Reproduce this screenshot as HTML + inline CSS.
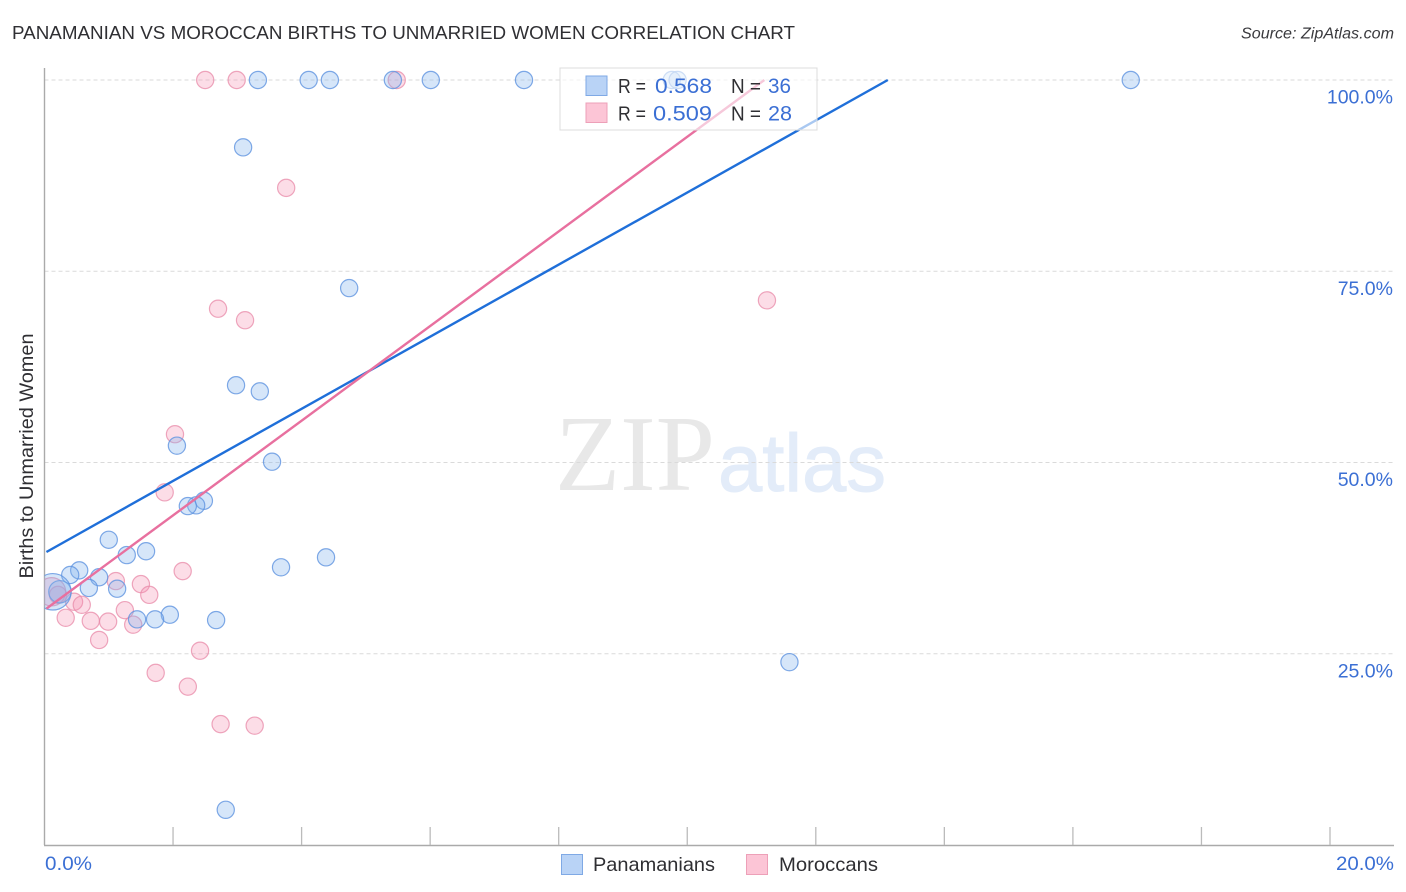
<!DOCTYPE html>
<html>
<head>
<meta charset="utf-8">
<title>Panamanian vs Moroccan Births to Unmarried Women Correlation Chart</title>
<style>
html,body{margin:0;padding:0;background:#fff;width:1406px;height:892px;overflow:hidden}
svg{display:block;font-family:"Liberation Sans",sans-serif}
</style>
</head>
<body>
<svg id="chart" xmlns="http://www.w3.org/2000/svg" width="1406" height="892" viewBox="0 0 1406 892">
  <defs>
    <clipPath id="plot-clip"><rect x="44.5" y="60" width="1350" height="785"/></clipPath>
  </defs>
  <rect x="0" y="0" width="1406" height="892" fill="#ffffff"/>
  <text x="12" y="39" font-size="18.5" fill="#2f2f33" textLength="783" lengthAdjust="spacingAndGlyphs">PANAMANIAN VS MOROCCAN BIRTHS TO UNMARRIED WOMEN CORRELATION CHART</text>
  <text x="1394" y="38.5" font-size="15.5" font-style="italic" fill="#3a3a3e" text-anchor="end" textLength="153" lengthAdjust="spacingAndGlyphs">Source: ZipAtlas.com</text>
  <g>
    <text x="555" y="490" font-family="'Liberation Serif',serif" font-size="108" fill="#e8e8e8" textLength="160" lengthAdjust="spacingAndGlyphs">ZIP</text>
    <text x="718" y="491" font-size="82" fill="#e3ecf9" stroke="#e3ecf9" stroke-width="1" textLength="168" lengthAdjust="spacingAndGlyphs">atlas</text>
  </g>
  <g id="grid"></g>
  <g id="axes"></g>
  <g id="marks" clip-path="url(#plot-clip)"></g>
  <g id="trends"></g>
  <text transform="translate(33,456) rotate(-90)" font-size="19.5" fill="#2f2f33" text-anchor="middle" textLength="245" lengthAdjust="spacingAndGlyphs">Births to Unmarried Women</text>
  <g>
    <rect x="560" y="68" width="257" height="62" fill="#ffffff" fill-opacity="0.62" stroke="#dcdcdc" stroke-width="1"/>
    <rect x="586" y="76" width="21" height="19.5" fill="#b9d3f6" stroke="#7fa9e5"/>
    <rect x="586" y="103" width="21" height="19.5" fill="#fcc5d6" stroke="#eda0b8"/>
    <text x="618" y="93" font-size="20" fill="#2f2f33" textLength="28" lengthAdjust="spacingAndGlyphs">R =</text>
    <text x="655" y="93" font-size="21" fill="#3b6fd4" textLength="57" lengthAdjust="spacingAndGlyphs">0.568</text>
    <text x="731" y="93" font-size="20" fill="#2f2f33" textLength="30" lengthAdjust="spacingAndGlyphs">N =</text>
    <text x="768" y="93" font-size="21" fill="#3b6fd4" textLength="23" lengthAdjust="spacingAndGlyphs">36</text>
    <text x="618" y="120.5" font-size="20" fill="#2f2f33" textLength="28" lengthAdjust="spacingAndGlyphs">R =</text>
    <text x="653" y="120.5" font-size="21" fill="#3b6fd4" textLength="59" lengthAdjust="spacingAndGlyphs">0.509</text>
    <text x="731" y="120.5" font-size="20" fill="#2f2f33" textLength="30" lengthAdjust="spacingAndGlyphs">N =</text>
    <text x="768" y="120.5" font-size="21" fill="#3b6fd4" textLength="24" lengthAdjust="spacingAndGlyphs">28</text>
  </g>
  <g>
    <rect x="561.5" y="854.5" width="21" height="20" fill="#b9d3f6" stroke="#7fa9e5"/>
    <text x="593" y="871" font-size="19.5" fill="#2f2f33" textLength="122" lengthAdjust="spacingAndGlyphs">Panamanians</text>
    <rect x="746.5" y="854.5" width="21" height="20" fill="#fcc5d6" stroke="#eda0b8"/>
    <text x="779" y="871" font-size="19.5" fill="#2f2f33" textLength="99" lengthAdjust="spacingAndGlyphs">Moroccans</text>
  </g>
</svg>
<script>
const yTicks = [25, 50, 75, 100];
const yTickLabels = ["25.0%", "50.0%", "75.0%", "100.0%"];
const xTicks = [2, 4, 6, 8, 10, 12, 14, 16, 18, 20];
const xEndTicks = [0, 20];
const xEndLabels = ["0.0%", "20.0%"];

const panamanianX = [3.32, 4.11, 4.44, 5.42, 6.01, 7.46, 9.76, 9.85, 16.9, 3.09, 4.74, 2.98, 3.35, 2.06, 3.54, 2.48, 2.36, 2.23, 1.0, 1.58, 1.28, 4.38, 3.68, 0.54, 0.40, 0.85, 0.69, 1.13, 0.24, 0.13, 1.95, 1.72, 1.44, 2.67, 11.59, 2.82];
const panamanianY = [100, 100, 100, 100, 100, 100, 100, 100, 100, 91.2, 72.8, 60.1, 59.3, 52.2, 50.1, 45.0, 44.4, 44.3, 39.9, 38.4, 37.9, 37.6, 36.3, 35.9, 35.3, 35.0, 33.6, 33.5, 33.1, 33.1, 30.1, 29.5, 29.5, 29.4, 23.9, 4.6];
const panamanianWeight = [1, 1, 1, 1, 1, 1, 1, 1, 1, 1, 1, 1, 1, 1, 1, 1, 1, 1, 1, 1, 1, 1, 1, 1, 1, 1, 1, 1, 1.7, 4.5, 1, 1, 1, 1, 1, 1];

const moroccanX = [2.50, 2.99, 5.48, 3.76, 2.70, 3.12, 11.24, 2.03, 1.87, 2.15, 1.11, 1.50, 1.63, 0.21, 0.11, 0.46, 0.58, 1.25, 0.33, 0.72, 0.99, 1.38, 0.85, 2.42, 1.73, 2.23, 2.74, 3.27];
const moroccanY = [100, 100, 100, 85.9, 70.1, 68.6, 71.2, 53.7, 46.1, 35.8, 34.5, 34.1, 32.7, 32.7, 33.1, 31.8, 31.4, 30.7, 29.7, 29.3, 29.2, 28.8, 26.8, 25.4, 22.5, 20.7, 15.8, 15.6];
const moroccanWeight = [1, 1, 1, 1, 1, 1, 1, 1, 1, 1, 1, 1, 1, 1, 2.7, 1, 1, 1, 1, 1, 1, 1, 1, 1, 1, 1, 1, 1];

const panamanianTrendX = [0.03, 13.12];
const panamanianTrendY = [38.3, 100];
const moroccanTrendX = [0.03, 11.2];
const moroccanTrendY = [30.9, 100];

const NS = "http://www.w3.org/2000/svg";
function xPos(v) { return 44.5 + v * 64.275; }
function yPos(v) { return 845 - v * 7.65; }
function radius(w) { return 8.6 * Math.sqrt(w); }
function make(tag, attrs, parent) {
  const el = document.createElementNS(NS, tag);
  for (const k in attrs) el.setAttribute(k, attrs[k]);
  parent.appendChild(el);
  return el;
}

const gridGroup = document.getElementById("grid");
const axesGroup = document.getElementById("axes");
const marksGroup = document.getElementById("marks");
const trendsGroup = document.getElementById("trends");

yTicks.forEach(function (t, i) {
  const line = make("line", { x1: 44.5, x2: 1394, y1: yPos(t), y2: yPos(t), stroke: "#dadada", "stroke-width": 1, "stroke-dasharray": "4 3" }, gridGroup);
  
  
  const label = make("text", { x: 1393, y: yPos(t) + 23.5, "font-size": 19.5, fill: "#3b6fd4", "text-anchor": "end" }, axesGroup);
  
  
  label.textContent = yTickLabels[i];
});

const yAxis = make("line", { x1: 44.5, x2: 44.5, y1: 68, y2: 845, stroke: "#aaaaaa", "stroke-width": 1.4 }, axesGroup);


const xAxis = make("line", { x1: 44, x2: 1394, y1: 845.5, y2: 845.5, stroke: "#aaaaaa", "stroke-width": 1.4 }, axesGroup);



xTicks.forEach(function (t) {
  const tick = make("line", { x1: xPos(t), x2: xPos(t), y1: 827, y2: 845, stroke: "#bbbbbb", "stroke-width": 1.3 }, axesGroup);
  
  
});

xEndTicks.forEach(function (t, i) {
  const label = make("text", { x: i === 0 ? 45 : 1336, y: 870, "font-size": 19.5, fill: "#3b6fd4", textLength: i === 0 ? 47 : 58, lengthAdjust: "spacingAndGlyphs" }, axesGroup);
  
  
  label.textContent = xEndLabels[i];
});

moroccanX.forEach(function (v, i) {
  const c = make("circle", { cx: xPos(v), cy: yPos(moroccanY[i]), r: radius(moroccanWeight[i]), fill: "#f58fb0", "fill-opacity": 0.3, stroke: "#e88aa8", "stroke-opacity": 0.75, "stroke-width": 1.2 }, marksGroup);
  
  
});

panamanianX.forEach(function (v, i) {
  const c = make("circle", { cx: xPos(v), cy: yPos(panamanianY[i]), r: radius(panamanianWeight[i]), fill: "#84b3ee", "fill-opacity": 0.33, stroke: "#5f94e0", "stroke-opacity": 0.8, "stroke-width": 1.2 }, marksGroup);
  
  
});

const blueTrend = make("line", { x1: xPos(panamanianTrendX[0]), y1: yPos(panamanianTrendY[0]), x2: xPos(panamanianTrendX[1]), y2: yPos(panamanianTrendY[1]), stroke: "#1f6fd9", "stroke-width": 2.4 }, trendsGroup);


const pinkTrend = make("line", { x1: xPos(moroccanTrendX[0]), y1: yPos(moroccanTrendY[0]), x2: xPos(moroccanTrendX[1]), y2: yPos(moroccanTrendY[1]), stroke: "#e8709f", "stroke-width": 2.4 }, trendsGroup);


</script>
</body>
</html>
